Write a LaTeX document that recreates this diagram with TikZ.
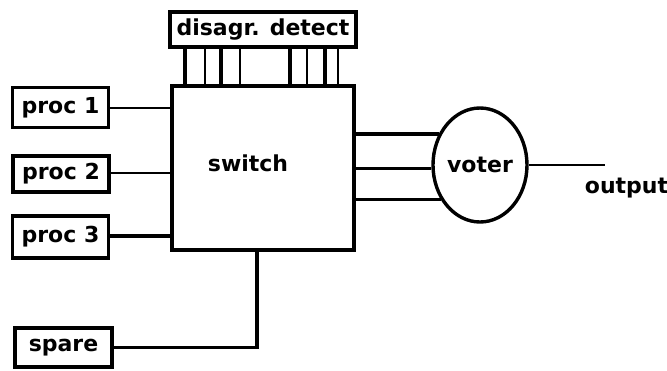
\documentclass[tikz,border=0pt]{standalone}
\usepackage{fontspec}
\setmainfont{DejaVu Sans}
\usetikzlibrary{shapes.geometric}

\begin{document}
\begin{tikzpicture}[x=1pt,y=-1pt,
  txt/.style={font=\bfseries\fontsize{22}{26}\selectfont},
  box/.style={draw,txt,line width=3.4pt,minimum width=96pt,minimum height=40pt,inner sep=0pt},
  wire/.style={line width=2.2pt},
  bus/.style={line width=3.4pt}]
  \useasboundingbox (0,0) rectangle (667,370);
  % processors and spare
  \node[box] (proc1) at (60.5,107.5) {proc 1};
  \node[box,minimum height=36pt] (proc2) at (61,174) {proc 2};
  \node[box,minimum height=42pt] (proc3) at (60.5,237) {proc 3};
  \node[box,minimum width=97pt,minimum height=39pt] (spare) at (63.5,347.5) {spare};
  % switch and detector
  \node[box,minimum width=182pt,minimum height=164pt,
        label={[txt,xshift=-15pt,yshift=5pt]center:switch}] (switch) at (263,168) {};
  \node[box,minimum width=186pt,minimum height=35pt] (disagr) at (263,29.5) {disagr. detect};
  \node[ellipse,draw,txt,line width=3.4pt,minimum width=94pt,minimum height=114pt,inner sep=0pt] (voter) at (480,165) {voter};
  \coordinate (out) at (605,165);
  \node[txt] (outlbl) at (626.5,188) {output};

  \draw[wire] (proc1.east |- 0,108) -- (switch.west |- 0,108);
  \draw[wire] (proc2.east |- 0,173) -- (switch.west |- 0,173);
  \draw[bus] (proc3.east |- 0,236) -- (switch.west |- 0,236);
  \draw[bus] (spare.east) -| ([xshift=-6pt]switch.south);
  \foreach \x/\w in {185/bus,205/wire,221/bus,240/wire,290/bus,307/wire,325/bus,338/wire}
    \draw[\w] (\x,0 |- disagr.south) -- (\x,0 |- switch.north);
  \draw[bus] (switch.east |- voter.143) -- (voter.143);
  \draw[bus] (switch.east |- voter.184) -- (voter.184);
  \draw[bus] (switch.east |- voter.221) -- (voter.221);
  \draw[wire] (voter.east) -- (out);
\end{tikzpicture}
\end{document}
